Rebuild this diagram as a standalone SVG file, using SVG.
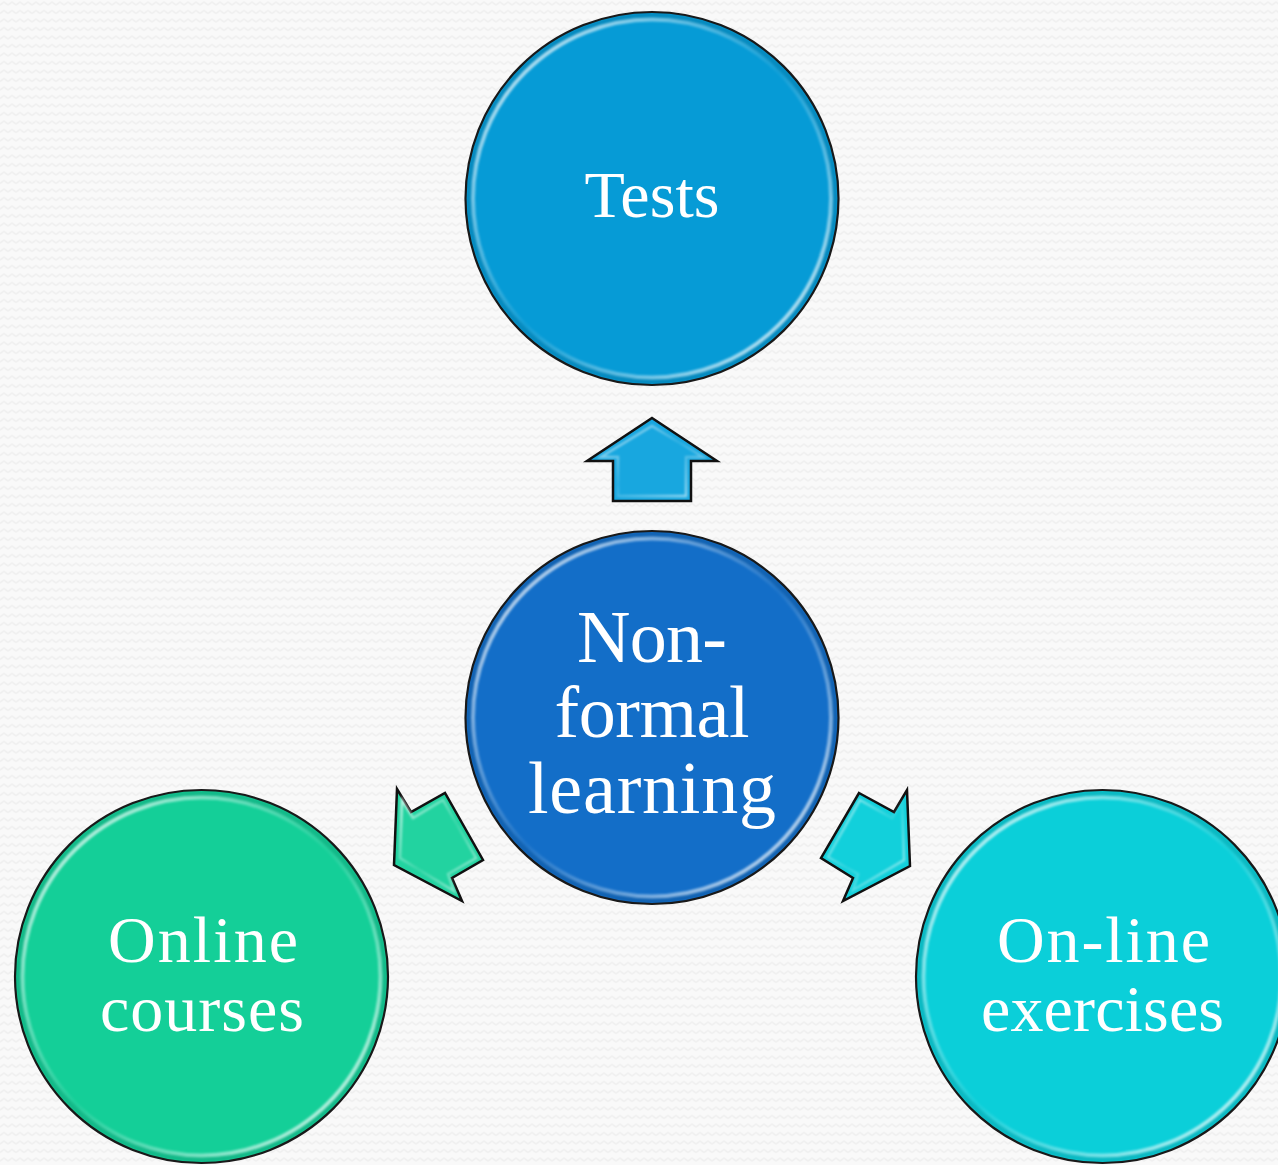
<svg xmlns="http://www.w3.org/2000/svg" width="1278" height="1165" viewBox="0 0 1278 1165">
<defs>
<pattern id="zig" width="8" height="8.5" patternUnits="userSpaceOnUse">
<rect width="8" height="8.5" fill="#f9f9f9"/>
<polyline points="0,5 4,2 8,5" fill="none" stroke="#efefef" stroke-width="1.4"/>
</pattern>
<linearGradient id="rim" x1="0" y1="0" x2="1" y2="1">
<stop offset="0" stop-color="#ffffff" stop-opacity="0.9"/>
<stop offset="0.3" stop-color="#ffffff" stop-opacity="0.35"/>
<stop offset="0.5" stop-color="#ffffff" stop-opacity="0.05"/>
<stop offset="0.7" stop-color="#ffffff" stop-opacity="0.35"/>
<stop offset="1" stop-color="#ffffff" stop-opacity="0.9"/>
</linearGradient>
<filter id="soft" x="-10%" y="-10%" width="120%" height="120%">
<feGaussianBlur stdDeviation="1.2"/>
</filter>
<linearGradient id="bevel" x1="0" y1="0" x2="1" y2="1">
<stop offset="0" stop-color="#ffffff" stop-opacity="0.7"/>
<stop offset="0.5" stop-color="#ffffff" stop-opacity="0.1"/>
<stop offset="1" stop-color="#ffffff" stop-opacity="0.6"/>
</linearGradient>
</defs>
<style>
.circ{stroke:#1a1a1a;stroke-width:2.2}
.rim{fill:none;stroke:url(#rim);stroke-width:4;filter:url(#soft)}
.shade{fill:none;stroke:#000;stroke-opacity:0.1;stroke-width:6;filter:url(#soft)}
.lbl{font-family:"Liberation Serif","DejaVu Serif",serif;fill:#ffffff;text-anchor:middle}
.arrow{stroke:#111;stroke-width:2.5;stroke-linejoin:miter}
.abev{fill:none;stroke:url(#bevel);stroke-width:2.5;filter:url(#soft)}
</style>
<rect width="1278" height="1165" fill="url(#zig)"/>

<g id="connectors">
<g id="arrow-up">
<polygon class="arrow" fill="#18a7df" points="652,418 717,461 691,461 691,501 613,501 613,461 587,461"/>
<polygon class="abev" points="652,426 703,457 686,457 686,496 618,496 618,457 601,457"/>
</g>
<g id="arrow-left">
<polygon class="arrow" fill="#22d3a0" points="394,865 397,789 411,812 445,793 483,860 452,878 462,901"/>
<polygon class="abev" points="400,858 402,800 413,818 443,800 476,858 448,874 454,891"/>
</g>
<g id="arrow-right">
<polygon class="arrow" fill="#12d0db" points="859,793 894,812 907,790 910,866 843,901 853,878 821,858"/>
<polygon class="abev" points="860,800 892,818 902,802 904,860 853,890 858,874 828,857"/>
</g>
</g>

<g id="node-tests">
<circle class="circ" cx="652" cy="198.5" r="186.5" fill="#069bd6"/>
<circle class="shade" cx="652" cy="198.5" r="183"/>
<circle class="rim" cx="652" cy="198.5" r="179"/>
<text class="lbl" x="652" y="217" font-size="66" textLength="135">Tests</text>
</g>

<g id="node-center">
<circle class="circ" cx="652" cy="717.5" r="186.5" fill="#136ec8"/>
<circle class="shade" cx="652" cy="717.5" r="183"/>
<circle class="rim" cx="652" cy="717.5" r="179"/>
<text class="lbl" x="652" y="662" font-size="74" textLength="150">Non-</text>
<text class="lbl" x="652" y="737" font-size="74" textLength="195">formal</text>
<text class="lbl" x="652" y="813" font-size="74" textLength="248">learning</text>
</g>

<g id="node-online-courses">
<circle class="circ" cx="201.5" cy="976.5" r="186.5" fill="#14cf98"/>
<circle class="shade" cx="201.5" cy="976.5" r="183"/>
<circle class="rim" cx="201.5" cy="976.5" r="179"/>
<text class="lbl" x="203" y="962" font-size="66" textLength="190">Online</text>
<text class="lbl" x="202" y="1031" font-size="66" textLength="204">courses</text>
</g>

<g id="node-online-exercises">
<circle class="circ" cx="1102.5" cy="976.5" r="186.5" fill="#0bcfd9"/>
<circle class="shade" cx="1102.5" cy="976.5" r="183"/>
<circle class="rim" cx="1102.5" cy="976.5" r="179"/>
<text class="lbl" x="1103.5" y="962" font-size="66" textLength="213">On-line</text>
<text class="lbl" x="1102.5" y="1031" font-size="66" textLength="243">exercises</text>
</g>
</svg>
